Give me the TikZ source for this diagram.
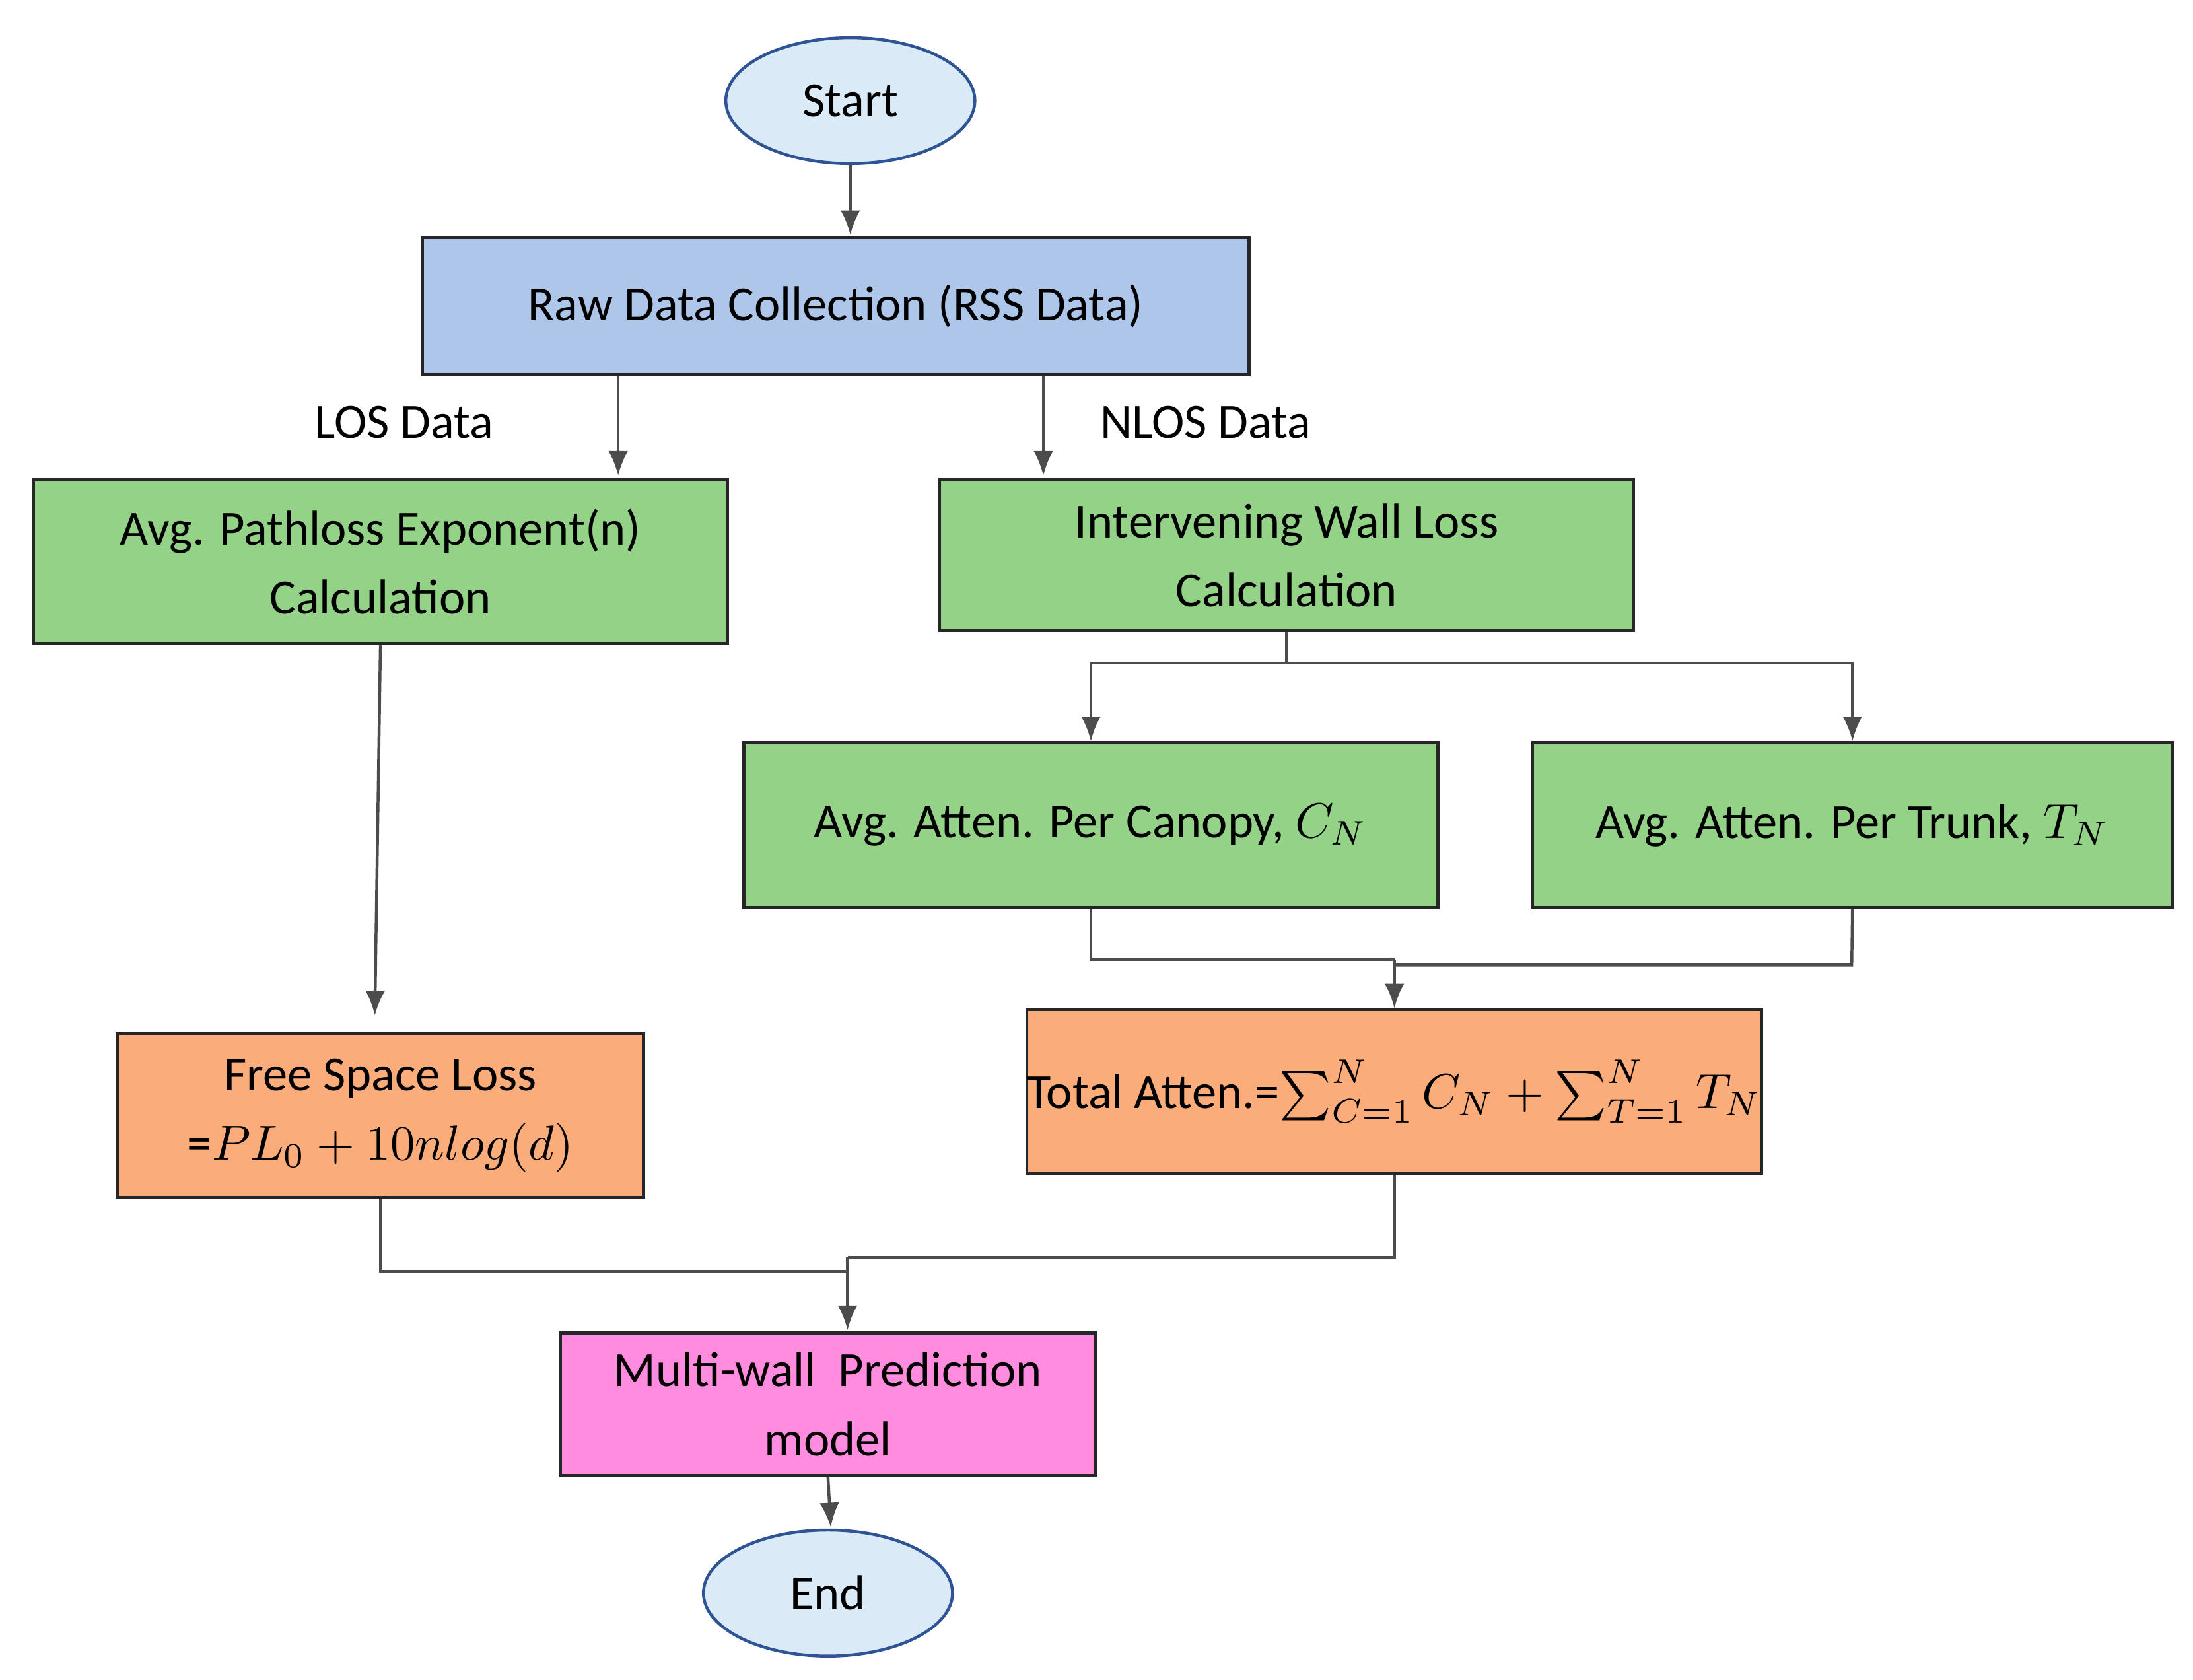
\documentclass[tikz,border=0pt]{standalone}
\usepackage{fontspec}
\setmainfont{Carlito}
\usetikzlibrary{shapes.geometric,arrows.meta}
\definecolor{cblue}{RGB}{173,198,234}
\definecolor{cgreen}{RGB}{148,210,135}
\definecolor{corange}{RGB}{250,173,122}
\definecolor{cpink}{RGB}{255,140,222}
\definecolor{cell}{RGB}{218,234,247}
\definecolor{cedge}{RGB}{46,84,150}
\begin{document}
\begin{tikzpicture}[x=0.01cm,y=-0.01cm,
  box/.style={draw=black!85,line width=0.6pt,font=\fontsize{10}{14}\selectfont,align=center,inner sep=0pt},
  ell/.style={ellipse,draw=cedge,line width=0.6pt,fill=cell,minimum width=178\pgflinewidth,font=\fontsize{10}{14}\selectfont},
  arr/.style={draw=black!70,line width=0.6pt,-{Latex[length=5pt,width=4pt]}},
  ln/.style={draw=black!70,line width=0.6pt}]
\useasboundingbox (0,0) rectangle (1568,1201);
\node[ell,minimum width=1.78cm,minimum height=0.9cm] (start) at (608,72) {Start};
\node[ell,minimum width=1.78cm,minimum height=0.9cm] (end) at (592,1139) {End};
\node[box,fill=cblue,minimum width=5.91cm,minimum height=0.98cm] (raw) at (597.5,219) {Raw Data Collection (RSS Data)};
\node[box,fill=cgreen,minimum width=4.96cm,minimum height=1.17cm] (pl) at (272,401.5) {Avg. Pathloss Exponent(n)\\Calculation};
\node[box,fill=cgreen,minimum width=4.96cm,minimum height=1.08cm] (iw) at (920,397) {Intervening Wall Loss\\Calculation};
\node[box,fill=cgreen,minimum width=4.96cm,minimum height=1.18cm] (can) at (780,590) {Avg. Atten. Per Canopy, $C_N$};
\node[box,fill=cgreen,minimum width=4.57cm,minimum height=1.18cm] (tr) at (1324.5,590) {Avg. Atten. Per Trunk, $T_N$};
\node[box,fill=corange,minimum width=5.02cm,minimum height=1.17cm] (tot) at (997,780.5) {Total Atten.=$\sum_{C=1}^{N} C_N+\sum_{T=1}^{N} T_N$};
\node[box,fill=corange,minimum width=3.76cm,minimum height=1.17cm] (fs) at (272,797.5) {Free Space Loss\\=$PL_0+10nlog(d)$};
\node[box,fill=cpink,minimum width=3.82cm,minimum height=1.02cm] (mw) at (592,1004) {Multi-wall\ \ Prediction\\model};
\node[font=\fontsize{10}{12}\selectfont] (los) at (289,302) {LOS Data};
\node[font=\fontsize{10}{12}\selectfont] (nlos) at (862,302) {NLOS Data};
\draw[arr] (start.south -| 608,0) -- (608,168);
\draw[arr] (raw.south -| 442,0) -- (442,340);
\draw[arr] (raw.south -| 746,0) -- (746,340);
\draw[ln] (iw.south) -- (920,474) coordinate (j1);
\draw[arr] (j1) -| (can.north);
\draw[arr] (j1) -| (tr.north);
\draw[ln] (can.south) -- (780,686) -- (997,686);
\draw[ln] (tr.south) -- (1324,690) -- (997,690);
\draw[arr] (997,686) -- (tot.north);
\draw[arr] (pl.south) -- (268,726);
\draw[ln] (fs.south) -- (272,909) -- (606,909);
\draw[ln] (tot.south) -- (997,899) -- (606,899);
\draw[arr] (606,899) -- (606,951);
\draw[arr] (mw.south) -- (594,1092);
\end{tikzpicture}
\end{document}
